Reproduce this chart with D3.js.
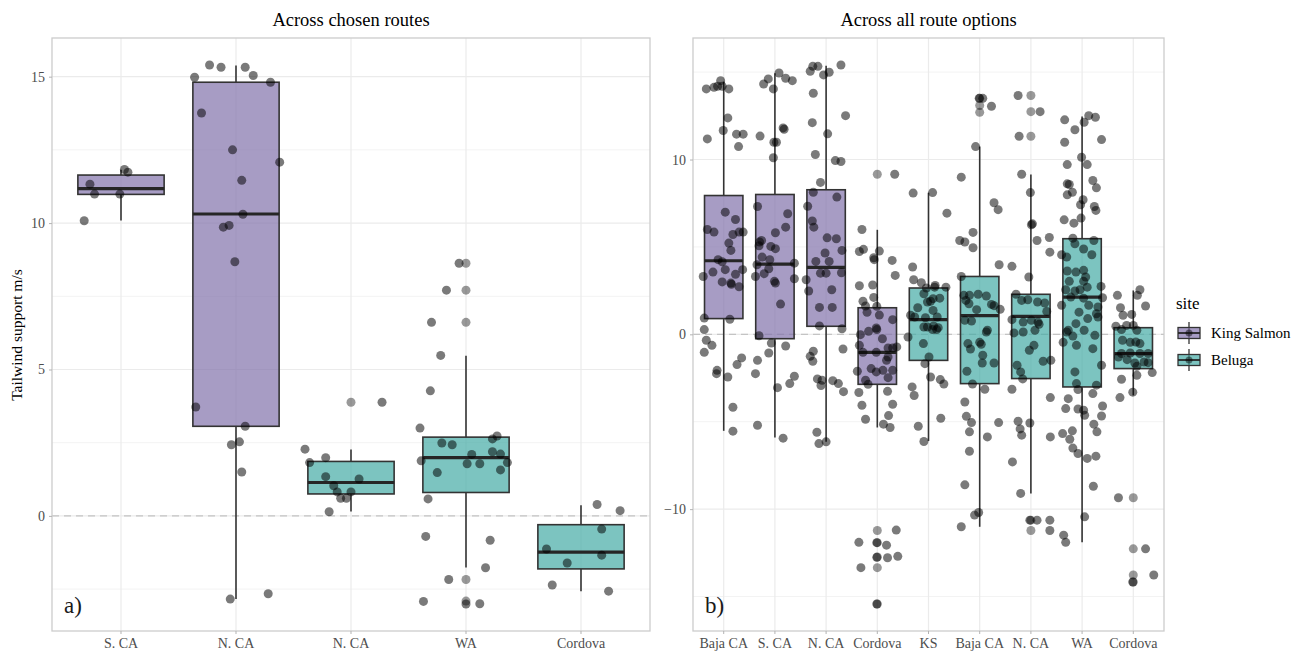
<!DOCTYPE html>
<html>
<head>
<meta charset="utf-8">
<script src="https://cdn.jsdelivr.net/npm/d3@7"></script>
<style>
  body { margin: 0; background: #fff; }
  svg { font-family: "Liberation Serif", "DejaVu Serif", serif; }
</style>
</head>
<body>
<svg id="chart" width="1291" height="651"></svg>
<script>
// ---- data ----
const sites = ['King Salmon', 'Beluga'];

// panel a: across chosen routes
const chosenRoutes = ['S. CA', 'N. CA', 'N. CA', 'WA', 'Cordova'];
const chosenSite = ['King Salmon', 'King Salmon', 'Beluga', 'Beluga', 'Beluga'];
// [whisker low, q1, median, q3, whisker high]
const chosenStats = [
  [10.09, 10.98, 11.18, 11.64, 11.82],
  [-2.84, 3.06, 10.31, 14.81, 15.38],
  [0.15, 0.75, 1.14, 1.86, 2.27],
  [-1.76, 0.8, 1.99, 2.69, 5.47],
  [-2.57, -1.81, -1.24, -0.3, 0.36]
];
const chosenOutliers = [[], [], [3.88], [8.63, 7.71, 6.61, -2.17, -2.91], []];
// jittered points: [offset in category units, value]
const chosenPoints = [
  [[-0.32,10.08],[-0.27,11.33],[-0.23,10.99],[-0.01,10.99],[0.03,11.83],[0.06,11.74]],
  [[-0.36,14.98],[-0.23,15.4],[-0.13,15.32],[0.08,15.32],[0.15,15.04],[0.30,14.81],[-0.30,13.76],
   [-0.03,12.5],[0.38,12.08],[0.05,11.46],[0.06,10.3],[-0.11,9.86],[-0.06,9.92],[-0.01,8.68],
   [-0.35,3.72],[0.08,3.06],[-0.04,2.43],[0.03,2.53],[0.05,1.5],[-0.05,-2.84],[0.28,-2.66]],
  [[-0.40,2.28],[-0.36,1.82],[-0.22,1.99],[-0.22,1.34],[-0.19,0.14],[-0.15,1.03],[-0.12,0.82],
   [-0.09,0.6],[-0.04,0.6],[0.0,0.82],[0.07,1.26],[0.27,3.88]],
  [[-0.06,8.63],[-0.17,7.71],[-0.30,6.61],[-0.22,5.48],[-0.31,4.27],[-0.40,3.0],[-0.21,2.49],
   [-0.12,2.43],[0.23,2.63],[0.27,2.73],[0.05,2.1],[0.23,2.19],[0.30,2.11],[-0.39,1.88],[0.01,1.78],
   [0.12,1.78],[0.36,1.82],[-0.25,1.48],[0.30,1.57],[-0.33,0.58],[-0.35,-0.7],[0.21,-0.83],
   [0.17,-1.77],[-0.15,-2.17],[-0.37,-2.92],[0.0,-3.01],[0.12,-3.0]],
  [[0.14,0.39],[0.34,0.18],[0.18,-0.45],[-0.30,-1.13],[0.18,-1.34],[-0.12,-1.61],[-0.25,-2.36],[0.24,-2.57]]
];

// panel b: across all route options
const allRoutes = ['Baja CA', 'S. CA', 'N. CA', 'Cordova', 'KS', 'Baja CA', 'N. CA', 'WA', 'Cordova'];
const allSite = ['King Salmon', 'King Salmon', 'King Salmon', 'King Salmon',
  'Beluga', 'Beluga', 'Beluga', 'Beluga', 'Beluga'];
const allStats = [
  [-5.52, 0.9, 4.21, 7.94, 14.46],
  [-5.9, -0.25, 4.02, 8.0, 14.93],
  [-6.15, 0.46, 3.83, 8.27, 15.37],
  [-5.33, -2.86, -1.03, 1.52, 5.98],
  [-6.1, -1.49, 0.84, 2.65, 8.1],
  [-11.01, -2.82, 1.07, 3.31, 10.74],
  [-9.1, -2.53, 1.03, 2.29, 9.14],
  [-11.89, -3.01, 2.13, 5.47, 12.46],
  [-3.49, -1.96, -1.1, 0.38, 2.51]
];
const allOutliers = [[], [], [], [9.16, -11.22, -11.92, -12.74, -13.35, -15.43], [],
  [13.5, 13.09, 12.7], [13.66, 12.74, 11.33, -10.63, -11.22], [], [-9.35, -12.27, -13.77, -14.17]];
const allPoints = [
  [[-0.34,14.04],[-0.19,14.13],[-0.12,14.19],[-0.06,14.51],[-0.03,14.19],[0.10,14.04],[0.08,12.38],
   [-0.01,11.66],[-0.32,11.18],[0.25,11.45],[0.38,11.45],[0.29,10.74],[0.03,6.99],[0.23,6.57],
   [-0.32,6.0],[-0.19,5.85],[0.18,5.71],[0.30,5.85],[0.38,5.85],[0.10,5.22],[0.14,4.8],[-0.11,4.27],
   [-0.03,4.15],[0.37,3.7],[-0.21,3.56],[0.03,3.7],[0.23,3.43],[-0.40,3.31],[-0.03,3.0],[0.14,2.93],
   [0.15,2.86],[0.30,2.72],[-0.38,0.93],[0.12,0.86],[-0.38,0.27],[-0.34,-0.34],[-0.23,-0.63],
   [-0.38,-1.03],[-0.13,-2.06],[-0.14,-2.25],[0.08,-2.44],[0.26,-1.73],[0.35,-1.35],[0.18,-4.17],[0.18,-5.54]],
  [[-0.22,14.32],[-0.13,14.61],[-0.03,14.04],[0.08,14.95],[0.21,14.65],[0.34,14.51],[-0.29,11.34],
   [-0.02,10.99],[0.03,10.99],[0.16,11.81],[0.18,11.73],[-0.03,10.1],[-0.34,7.31],[0.25,6.9],
   [0.21,6.13],[0.01,5.81],[-0.30,5.28],[-0.26,5.37],[-0.31,5.07],[-0.08,5.03],[0.01,4.9],[-0.25,4.42],
   [-0.10,4.27],[0.38,4.07],[-0.35,3.98],[-0.12,3.75],[-0.21,3.47],[-0.38,3.31],[0.38,3.18],[-0.01,3.03],
   [0.01,2.93],[0.11,1.73],[-0.31,-0.08],[-0.07,-0.5],[-0.12,-1.07],[0.21,-0.67],[-0.34,-1.49],
   [-0.38,-2.25],[0.05,-3.05],[0.29,-2.82],[0.38,-2.4],[-0.34,-5.2],[0.16,-5.94]],
  [[-0.31,15.05],[-0.26,15.33],[-0.16,15.33],[-0.05,14.84],[0.06,14.99],[0.29,15.41],[-0.25,13.79],
   [0.38,12.51],[-0.27,12.11],[0.03,11.47],[-0.21,10.29],[0.18,9.94],[0.29,9.89],[-0.11,8.69],
   [-0.25,8.13],[0.21,7.85],[-0.36,7.33],[-0.27,6.48],[-0.24,6.13],[0.02,5.52],[0.20,5.47],[0.31,4.8],
   [-0.02,4.65],[-0.20,4.17],[0.06,4.17],[-0.11,3.5],[0.0,3.5],[0.30,3.52],[-0.39,3.12],[-0.34,2.48],
   [0.11,2.55],[-0.13,1.54],[0.12,1.54],[-0.13,0.48],[0.31,0.32],[-0.25,-0.97],[-0.31,-1.26],
   [-0.26,-1.54],[0.33,-0.84],[-0.17,-2.55],[-0.08,-2.63],[-0.10,-2.93],[0.13,-2.65],[0.24,-2.82],
   [0.34,-3.28],[-0.18,-5.6],[-0.14,-6.25],[0.0,-6.15]],
  [[0.34,9.16],[-0.30,6.0],[-0.35,4.74],[-0.27,4.86],[0.04,4.76],[-0.07,4.38],[-0.06,4.27],[0.29,4.23],
   [0.35,3.37],[-0.35,2.78],[-0.09,2.82],[-0.07,2.11],[-0.28,1.89],[-0.23,1.62],[-0.01,1.6],[-0.20,1.26],
   [0.04,1.1],[0.30,0.84],[-0.02,0.36],[-0.17,0.17],[-0.01,0.27],[-0.33,-0.02],[0.10,-0.25],[-0.35,-0.63],
   [0.21,-0.78],[0.30,-0.78],[0.38,-0.72],[-0.28,-1.03],[-0.02,-1.03],[0.21,-1.3],[0.18,-1.49],
   [-0.39,-2.11],[-0.12,-1.96],[-0.02,-2.15],[0.11,-2.06],[0.21,-2.48],[0.30,-2.06],[-0.23,-2.63],
   [-0.18,-2.86],[-0.36,-3.33],[0.20,-3.26],[-0.30,-4.06],[0.30,-4.0],[0.22,-4.65],[-0.23,-4.86],
   [0.12,-5.14],[0.25,-5.33],[0.37,-11.2],[-0.36,-11.9],[-0.01,-11.92],[0.18,-12.06],[-0.01,-12.76],
   [0.20,-12.78],[0.40,-12.7],[-0.32,-13.35],[-0.01,-15.43]],
  [[-0.30,8.08],[0.08,8.11],[0.36,6.93],[-0.31,3.85],[-0.29,3.12],[-0.14,2.95],[0.13,2.8],[0.34,2.7],
   [-0.04,2.65],[0.12,2.7],[-0.09,2.32],[0.09,2.04],[0.22,2.07],[0.04,1.89],[-0.02,1.85],[-0.21,1.52],
   [0.09,1.37],[-0.35,1.09],[-0.27,0.99],[-0.06,0.95],[0.17,0.99],[-0.02,0.42],[0.08,0.27],[0.16,0.27],
   [-0.40,-0.15],[-0.09,0.42],[0.10,0.48],[0.19,0.38],[-0.10,-0.53],[0.01,-1.3],[-0.07,-1.68],
   [0.04,-2.44],[0.23,-2.59],[0.30,-2.84],[-0.32,-3.01],[-0.28,-3.5],[0.24,-4.8],[-0.20,-5.26],[-0.09,-6.13]],
  [[-0.01,13.5],[0.06,13.5],[0.23,13.05],[-0.08,10.74],[-0.36,8.99],[0.28,7.53],[0.36,7.13],[-0.13,5.83],
   [-0.39,5.37],[-0.29,5.28],[-0.13,4.95],[0.38,3.98],[-0.36,3.31],[-0.20,2.23],[-0.03,2.29],[0.13,2.19],
   [-0.27,1.94],[0.23,1.71],[0.28,1.64],[0.40,1.43],[-0.06,1.41],[-0.31,2.23],[-0.21,1.75],[-0.29,0.8],
   [-0.16,0.76],[0.13,0.13],[0.0,-0.46],[-0.23,-0.53],[0.15,0.23],[0.03,-0.57],[0.06,-1.2],[0.05,-1.64],
   [0.28,-1.64],[-0.18,-0.84],[-0.25,-2.11],[-0.14,-2.84],[0.10,-3.14],[-0.29,-3.87],[-0.26,-4.69],
   [-0.16,-5.05],[-0.20,-5.58],[0.37,-5.05],[0.15,-5.87],[-0.20,-6.69],[-0.29,-8.61],[-0.10,-10.34],
   [-0.02,-10.19],[-0.36,-11.01]],
  [[-0.25,13.66],[0.18,12.74],[-0.23,11.33],[-0.18,9.16],[-0.01,8.11],[0.03,6.32],[0.01,6.27],[0.12,5.37],
   [0.36,5.54],[0.37,4.7],[-0.37,3.89],[-0.04,3.28],[-0.29,2.29],[-0.18,1.94],[-0.06,1.98],[0.13,1.85],
   [0.27,1.79],[0.31,1.31],[-0.37,0.84],[-0.15,0.7],[0.01,0.8],[0.14,0.7],[-0.15,0.13],[0.08,0.23],
   [-0.33,0.08],[0.16,0.57],[0.06,-0.63],[-0.03,-0.91],[-0.27,-1.77],[-0.20,-2.15],[0.24,-1.54],
   [0.39,-1.49],[-0.16,-2.55],[-0.37,-3.14],[0.38,-3.62],[-0.25,-4.97],[-0.21,-5.41],[-0.18,-5.77],
   [-0.02,-5.07],[0.38,-5.87],[-0.36,-7.3],[-0.20,-9.1],[-0.02,-10.63],[0.12,-10.63],[0.37,-10.63],[0.37,-11.22]],
  [[-0.34,12.27],[-0.14,11.7],[0.04,12.13],[0.13,12.51],[0.26,12.42],[0.38,11.14],[-0.34,10.99],
   [-0.01,10.13],[-0.29,9.71],[0.10,9.71],[-0.29,8.61],[-0.25,8.57],[-0.29,7.98],[-0.19,8.13],[0.21,8.8],
   [0.28,8.38],[0.02,7.7],[-0.03,7.41],[-0.02,6.65],[0.24,7.31],[0.27,7.09],[-0.35,6.55],[-0.16,6.36],
   [-0.18,5.5],[0.23,5.37],[-0.40,4.55],[-0.30,4.42],[-0.14,5.18],[0.03,4.88],[0.19,4.55],[-0.29,3.62],
   [-0.12,3.56],[0.03,3.66],[0.07,3.28],[-0.25,3.03],[0.03,3.03],[0.37,2.74],[-0.32,2.55],[-0.14,2.48],
   [-0.04,2.55],[0.10,2.7],[-0.22,2.13],[0.03,2.07],[0.40,2.09],[-0.40,1.66],[0.13,1.66],[-0.06,1.27],
   [0.11,0.9],[0.31,1.56],[0.28,1.18],[0.31,0.99],[-0.12,0.61],[-0.30,0.13],[0.04,0.23],[0.25,-0.06],
   [-0.37,-0.46],[-0.11,-0.63],[-0.27,0.23],[-0.18,-0.1],[0.21,-0.82],[0.38,-1.77],[-0.14,-2.15],
   [-0.11,-2.82],[0.28,-2.91],[-0.08,-3.16],[0.21,-3.39],[-0.27,-3.68],[-0.32,-4.25],[-0.08,-4.27],
   [0.03,-4.34],[0.40,-4.1],[0.38,-4.67],[0.05,-4.63],[-0.38,-5.68],[-0.19,-5.52],[-0.24,-6.0],
   [0.23,-5.14],[0.29,-5.58],[-0.18,-6.51],[-0.08,-6.82],[0.10,-7.1],[0.27,-6.97],[0.22,-8.69],
   [0.05,-10.44],[-0.36,-11.49],[-0.32,-11.9]],
  [[-0.31,2.23],[0.13,2.55],[0.08,2.23],[0.24,1.62],[-0.25,1.52],[-0.03,1.14],[-0.20,1.09],[0.0,0.51],
   [-0.13,0.51],[-0.34,0.46],[0.07,0.23],[-0.23,0.27],[-0.06,-0.46],[0.05,-0.44],[0.13,-0.53],
   [-0.21,-0.34],[-0.23,-1.1],[-0.06,-1.07],[0.13,-1.1],[0.29,-1.1],[0.03,-1.64],[0.21,-1.58],
   [0.29,-1.62],[-0.29,-1.3],[-0.12,-1.45],[0.07,-1.83],[0.37,-2.19],[0.07,-2.34],[-0.23,-2.57],
   [-0.26,-3.62],[-0.01,-3.31],[-0.29,-9.35],[0.24,-12.27],[0.40,-13.77],[-0.01,-14.17]]
];

// ---- drawing ----
const svg = d3.select('#chart');
const fillColor = d3.scaleOrdinal().domain(sites).range(['#8272ab', '#44aba5']);
const gridCol = '#ebebeb', borderCol = '#cccccc', textCol = '#4d4d4d';
const serif = '"Liberation Serif", "DejaVu Serif", serif';

function drawPanel(opt) {
  const { left, right, top, bottom, cats, site, stats, outliers, points, ticks, title, tag } = opt;
  const g = svg.append('g');

  // y domain as ggplot: data range + 5% on both sides
  let all = [];
  stats.forEach(s => all.push(s[0], s[4]));
  points.forEach(p => p.forEach(d => all.push(d[1])));
  outliers.forEach(o => all.push(...o));
  const ext = d3.extent(all), pad = (ext[1] - ext[0]) * 0.05;
  const y = d3.scaleLinear().domain([ext[0] - pad, ext[1] + pad]).range([bottom, top]);

  const x = d3.scaleBand().domain(d3.range(cats.length)).range([left, right])
    .paddingInner(0).paddingOuter(0.1);
  const step = x.step();
  const cx = i => x(i) + x.bandwidth() / 2;
  const boxW = step * 0.75;

  // minor grid halfway between the major ticks
  const tickStep = ticks[1] - ticks[0];
  const minorTicks = [];
  for (let t = ticks[0] - tickStep / 2; t <= ticks[ticks.length - 1] + tickStep; t += tickStep) {
    if (t > y.domain()[0] && t < y.domain()[1]) minorTicks.push(t);
  }
  g.selectAll('.minor').data(minorTicks).enter().append('line')
    .attr('x1', left).attr('x2', right)
    .attr('y1', d => y(d)).attr('y2', d => y(d))
    .attr('stroke', '#f3f3f3').attr('stroke-width', 1);
  g.selectAll('.major').data(ticks).enter().append('line')
    .attr('x1', left).attr('x2', right)
    .attr('y1', d => y(d)).attr('y2', d => y(d))
    .attr('stroke', gridCol).attr('stroke-width', 1.2);
  g.selectAll('.vgrid').data(d3.range(cats.length)).enter().append('line')
    .attr('x1', cx).attr('x2', cx).attr('y1', top).attr('y2', bottom)
    .attr('stroke', gridCol).attr('stroke-width', 1.2);

  // zero line
  g.append('line').attr('x1', left).attr('x2', right)
    .attr('y1', y(0)).attr('y2', y(0))
    .attr('stroke', '#c4c4c4').attr('stroke-width', 1.3).attr('stroke-dasharray', '7,5');

  // boxes
  const box = g.selectAll('.box').data(stats).enter().append('g');
  box.append('line')
    .attr('x1', (d, i) => cx(i)).attr('x2', (d, i) => cx(i))
    .attr('y1', d => y(d[4])).attr('y2', d => y(d[3]))
    .attr('stroke', '#333').attr('stroke-width', 1.6);
  box.append('line')
    .attr('x1', (d, i) => cx(i)).attr('x2', (d, i) => cx(i))
    .attr('y1', d => y(d[1])).attr('y2', d => y(d[0]))
    .attr('stroke', '#333').attr('stroke-width', 1.6);
  box.append('rect')
    .attr('x', (d, i) => cx(i) - boxW / 2).attr('width', boxW)
    .attr('y', d => y(d[3])).attr('height', d => y(d[1]) - y(d[3]))
    .attr('fill', (d, i) => fillColor(site[i])).attr('fill-opacity', 0.7)
    .attr('stroke', '#333').attr('stroke-width', 1.6);
  box.append('line')
    .attr('x1', (d, i) => cx(i) - boxW / 2).attr('x2', (d, i) => cx(i) + boxW / 2)
    .attr('y1', d => y(d[2])).attr('y2', d => y(d[2]))
    .attr('stroke', '#262626').attr('stroke-width', 3.2);

  // outliers at the box centre
  outliers.forEach((o, i) => {
    g.selectAll(null).data(o).enter().append('circle')
      .attr('cx', cx(i)).attr('cy', d => y(d)).attr('r', 4.5)
      .attr('fill', '#000').attr('fill-opacity', 0.4);
  });
  // jittered points
  points.forEach((p, i) => {
    g.selectAll(null).data(p).enter().append('circle')
      .attr('cx', d => cx(i) + d[0] * step).attr('cy', d => y(d[1])).attr('r', 4.5)
      .attr('fill', '#000').attr('fill-opacity', 0.52);
  });

  // panel border
  g.append('rect').attr('x', left).attr('y', top)
    .attr('width', right - left).attr('height', bottom - top)
    .attr('fill', 'none').attr('stroke', borderCol).attr('stroke-width', 1.3);

  // axes
  const yAxis = g.append('g').attr('transform', `translate(${left},0)`)
    .call(d3.axisLeft(y).tickValues(ticks).tickSize(3).tickPadding(4));
  const xAxis = g.append('g').attr('transform', `translate(0,${bottom})`)
    .call(d3.axisBottom(x).tickFormat(i => cats[i]).tickSize(3).tickPadding(4));
  [yAxis, xAxis].forEach(a => {
    a.attr('font-family', serif).attr('font-size', 14);
    a.select('.domain').remove();
    a.selectAll('.tick line').attr('stroke', '#b3b3b3');
    a.selectAll('.tick text').attr('fill', textCol);
  });

  // title and tag
  g.append('text').attr('x', (left + right) / 2).attr('y', 26)
    .attr('text-anchor', 'middle').style('font-size', '18.5px').attr('fill', '#000')
    .text(title);
  g.append('text').attr('x', left + 12).attr('y', bottom - 18)
    .style('font-size', '23px').attr('fill', '#1a1a1a').text(tag);
}

drawPanel({
  left: 52, right: 650, top: 38, bottom: 631,
  cats: chosenRoutes, site: chosenSite, stats: chosenStats,
  outliers: chosenOutliers, points: chosenPoints,
  ticks: [0, 5, 10, 15], title: 'Across chosen routes', tag: 'a)'
});
drawPanel({
  left: 693, right: 1164, top: 38, bottom: 631,
  cats: allRoutes, site: allSite, stats: allStats,
  outliers: allOutliers, points: allPoints,
  ticks: [-10, 0, 10], title: 'Across all route options', tag: 'b)'
});

// y axis title
svg.append('text')
  .attr('transform', 'translate(22,335) rotate(-90)')
  .attr('text-anchor', 'middle').style('font-size', '15.5px').attr('fill', '#000')
  .text('Tailwind support m/s');

// legend
const legend = svg.append('g').attr('transform', 'translate(1176,0)');
legend.append('text').attr('x', 0).attr('y', 309).style('font-size', '17px').text('site');
const item = legend.selectAll('.item').data(sites).enter().append('g')
  .attr('transform', (d, i) => `translate(0,${333 + i * 27})`);
item.append('line').attr('x1', 13).attr('x2', 13).attr('y1', -11).attr('y2', 11)
  .attr('stroke', '#333').attr('stroke-width', 1.3);
item.append('rect').attr('x', 2).attr('y', -5.5).attr('width', 22).attr('height', 11)
  .attr('fill', d => fillColor(d)).attr('fill-opacity', 0.7)
  .attr('stroke', '#333').attr('stroke-width', 1.3);
item.append('line').attr('x1', 2).attr('x2', 24).attr('y1', 0).attr('y2', 0)
  .attr('stroke', '#262626').attr('stroke-width', 1.8);
item.append('circle').attr('cx', 13).attr('cy', 0).attr('r', 3.5)
  .attr('fill', '#000').attr('fill-opacity', 0.45);
item.append('text').attr('x', 35).attr('y', 5).style('font-size', '15px').text(d => d);
</script>
</body>
</html>
